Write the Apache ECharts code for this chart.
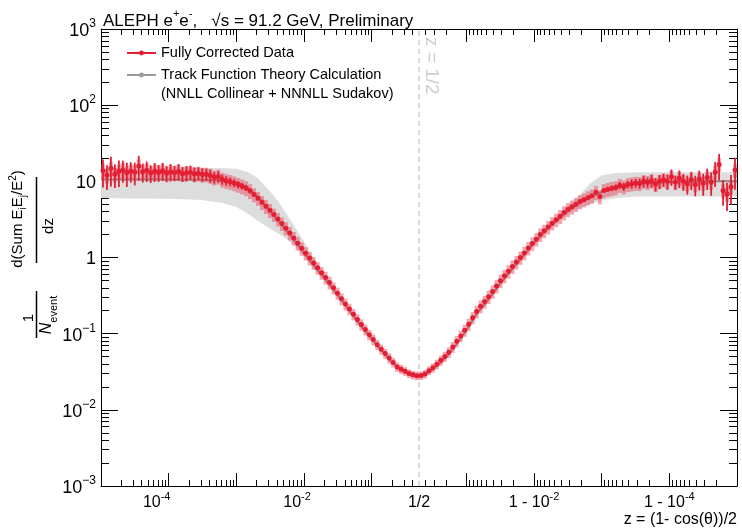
<!DOCTYPE html>
<html><head><meta charset="utf-8">
<script src="https://cdn.jsdelivr.net/npm/echarts@6/dist/echarts.min.js"></script>
<style>html,body{margin:0;padding:0;background:#fff}#c{width:742px;height:531px}</style>
</head><body><div id="c"></div>
<script>
// ---------------- DATA ----------------
// 80 log-spaced bins from z=1e-5 to z=1/2 (increasing z)
const dataLeft = [13.8,12.0,14.8,12.4,13.6,14.1,13.0,13.7,13.2,15.9,
13.4,14.0,12.9,13.6,13.1,13.8,12.8,13.4,13.0,13.5,
12.6,12.9,13.2,12.5,12.8,12.3,12.4,11.9,11.3,11.6,
10.6,10.2,9.9,9.5,9.06,8.65,8.2,7.5,6.7,6.0,
5.3,4.7,4.17,3.66,3.2,2.79,2.43,2.10,1.80,1.54,
1.32,1.14,0.984,0.85,0.733,0.632,0.546,0.47,0.40,0.34,
0.288,0.245,0.211,0.180,0.154,0.132,0.113,0.097,0.0836,0.0718,
0.0624,0.0547,0.0479,0.0419,0.0366,0.0342,0.0321,0.0301,0.0288,0.0281];
// 80 log-spaced bins in (1-z) from 1-z=1/2 to 1-z=1e-5 (increasing z)
const dataRight = [0.0283,0.0295,0.0327,0.0358,0.0398,0.0447,0.0501,0.0569,0.0668,0.0794,
0.0933,0.111,0.133,0.162,0.195,0.229,0.264,0.305,0.359,0.422,
0.495,0.575,0.66,0.759,0.871,1.0,1.15,1.33,1.53,1.74,
2.0,2.24,2.51,2.82,3.13,3.47,3.89,4.29,4.63,5.01,
5.43,5.75,6.10,6.46,7.2,6.3,7.6,7.9,8.1,8.3,
8.9,8.5,9.1,9.3,9.5,9.4,10.0,9.7,10.2,9.2,
10.0,10.5,10.0,11.5,9.8,11.0,10.0,9.3,10.5,9.1,
10.7,9.5,11.2,9.8,13.2,16.6,7.6,6.8,8.5,14.1];
// relative statistical uncertainties (error bars)
const statLeft = [0.40,0.36,0.42,0.34,0.38,0.32,0.35,0.30,0.33,0.36,
0.28,0.30,0.26,0.28,0.25,0.27,0.24,0.26,0.23,0.25,
0.22,0.23,0.20,0.22,0.19,0.20,0.18,0.19,0.17,0.17,
0.15,0.14,0.13,0.12,0.11,0.10,0.09,0.08,0.07,0.06,
0.05,0.05,0.04,0.04,0.035,0.03,0.03,0.03,0.025,0.025,
0.02,0.02,0.02,0.02,0.02,0.02,0.02,0.02,0.02,0.02,
0.02,0.02,0.02,0.02,0.02,0.02,0.02,0.02,0.02,0.02,
0.02,0.02,0.02,0.02,0.02,0.02,0.02,0.02,0.02,0.02];
const statRight = [0.02,0.02,0.02,0.02,0.02,0.02,0.02,0.02,0.02,0.02,
0.02,0.02,0.02,0.02,0.02,0.02,0.02,0.02,0.02,0.02,
0.02,0.02,0.02,0.02,0.02,0.02,0.02,0.02,0.02,0.02,
0.02,0.02,0.02,0.02,0.02,0.02,0.02,0.02,0.025,0.025,
0.03,0.03,0.04,0.04,0.05,0.06,0.05,0.07,0.08,0.09,
0.10,0.12,0.11,0.14,0.13,0.15,0.17,0.15,0.19,0.20,
0.21,0.19,0.23,0.24,0.21,0.26,0.25,0.28,0.27,0.30,
0.29,0.32,0.31,0.34,0.36,0.38,0.37,0.40,0.42,0.45];
// relative systematic uncertainties (pink boxes)
const sysLeft = [0.22,0.22,0.22,0.22,0.22,0.22,0.22,0.22,0.22,0.22,
0.22,0.22,0.22,0.22,0.22,0.22,0.22,0.22,0.22,0.22,
0.22,0.22,0.22,0.22,0.22,0.22,0.22,0.22,0.22,0.22,
0.22,0.22,0.22,0.22,0.22,0.22,0.22,0.22,0.21,0.21,
0.21,0.21,0.21,0.20,0.20,0.20,0.20,0.20,0.20,0.20,
0.20,0.20,0.20,0.19,0.19,0.19,0.19,0.19,0.18,0.18,
0.18,0.18,0.17,0.17,0.17,0.17,0.16,0.16,0.16,0.15,
0.15,0.15,0.15,0.14,0.14,0.14,0.13,0.13,0.13,0.13];
const sysRight = [0.13,0.13,0.13,0.14,0.14,0.15,0.15,0.16,0.16,0.17,
0.17,0.18,0.18,0.18,0.19,0.19,0.19,0.20,0.20,0.20,
0.20,0.20,0.20,0.20,0.20,0.20,0.20,0.20,0.20,0.20,
0.20,0.20,0.20,0.20,0.20,0.21,0.21,0.21,0.21,0.21,
0.21,0.21,0.21,0.21,0.21,0.21,0.21,0.21,0.21,0.21,
0.21,0.21,0.21,0.21,0.21,0.21,0.21,0.21,0.21,0.21,
0.21,0.21,0.21,0.21,0.21,0.21,0.21,0.21,0.21,0.21,
0.21,0.21,0.21,0.21,0.21,0.21,0.21,0.21,0.21,0.21];
// theory (central value, band low, band high)
const theoryLeftZ   = [1e-5,3e-5,1e-4,3e-4,6e-4,1e-3,1.5e-3,2e-3,3e-3,4e-3,5e-3,7e-3,1e-2,1.5e-2,2e-2,3e-2,5e-2,7e-2,0.1,0.15,0.2,0.3,0.4,0.5];
const theoryLeftVal = [10.6,10.6,10.6,10.47,10.23,9.66,8.04,6.46,4.22,3.16,2.51,1.72,1.148,0.724,0.537,0.339,0.186,0.126,0.0861,0.0562,0.0422,0.0320,0.0288,0.0277];
const theoryLeftLo  = [6.03,5.96,5.89,5.69,5.25,4.62,3.72,3.09,2.45,2.09,1.86,1.48,1.023,0.661,0.490,0.316,0.174,0.117,0.0813,0.0537,0.0403,0.0305,0.0275,0.0266];
const theoryLeftHi  = [14.45,14.62,14.79,14.96,14.96,14.62,13.18,11.22,7.76,5.71,4.27,2.69,1.62,0.891,0.603,0.363,0.200,0.133,0.0902,0.0582,0.0437,0.0331,0.0299,0.0288];
const theoryRightOneMinusZ = [0.4,0.3,0.2,0.15,0.1,0.07,0.05,0.03,0.02,0.015,0.01,7e-3,5e-3,3e-3,2e-3,1.5e-3,1e-3,6e-4,3e-4,1e-4,3e-5,1e-5];
const theoryRightVal = [0.0292,0.0351,0.0490,0.0668,0.111,0.182,0.263,0.479,0.741,1.0,1.53,2.14,2.85,4.17,5.31,6.10,7.24,8.32,9.23,9.77,10.0,10.0];
const theoryRightLo  = [0.0279,0.0335,0.0468,0.0638,0.106,0.174,0.251,0.457,0.708,0.955,1.46,2.04,2.72,3.80,4.57,5.01,5.62,6.03,6.31,6.31,6.31,6.31];
const theoryRightHi  = [0.0305,0.0367,0.0513,0.070,0.116,0.191,0.275,0.501,0.776,1.047,1.60,2.24,3.02,5.01,6.92,9.33,12.0,12.9,13.2,13.2,13.2,13.2];
// tick definitions
const xMajorLeftZ = [1e-5,1e-4,1e-3,1e-2,1e-1];
const xMajorRightOneMinusZ = [1e-1,1e-2,1e-3,1e-4,1e-5];
const minorMantissas = [2,3,4,5,6,7,8,9];
const xMinorDecades = [1e-5,1e-4,1e-3,1e-2];
const xMinorTenths = [0.2,0.3,0.4];
const xLabelTicks = [
  {side:'L', v:1e-4, base:'10', sup:'-4', pad:24},
  {side:'L', v:1e-2, base:'10', sup:'-2', pad:14},
  {side:'L', v:0.5,  base:'1/2', sup:'', pad:0},
  {side:'R', v:1e-2, base:'1 - 10', sup:'-2', pad:0},
  {side:'R', v:1e-4, base:'1 - 10', sup:'-4', pad:0}
];
const yDecades = [1e-3,1e-2,1e-1,1,10,100,1000];
const yTickLabels = [['10','\u22123'],['10','\u22122'],['10','\u22121'],['1',''],['10',''],['10','2'],['10','3']];

// ---------------- AXIS TRANSFORM ----------------
const LOG_HALF = Math.log10(0.5);
const uOfZ = z => Math.log10(z);
const uOfOneMinusZ = w => 2 * LOG_HALF - Math.log10(w);
const U_MIN = uOfZ(1e-5), U_MAX = uOfOneMinusZ(1e-5);
const FONT = '"Liberation Sans", Arial, Helvetica, sans-serif';
const RED = '#e41e32';

// bins
const nL = dataLeft.length, nR = dataRight.length;
const wL = (LOG_HALF - U_MIN) / nL, wR = (U_MAX - LOG_HALF) / nR;
const boxData = [], errData = [], dotData = [];
dataLeft.forEach((v, i) => {
  const a = U_MIN + i * wL, b = a + wL, c = (a + b) / 2;
  boxData.push([a, b, v, sysLeft[i]]); errData.push([c, v, statLeft[i]]); dotData.push([c, v]);
});
dataRight.forEach((v, j) => {
  const a = LOG_HALF + j * wR, b = a + wR, c = (a + b) / 2;
  boxData.push([a, b, v, sysRight[j]]); errData.push([c, v, statRight[j]]); dotData.push([c, v]);
});
const theoryPts = [];
theoryLeftZ.forEach((z, k) => theoryPts.push([uOfZ(z), theoryLeftVal[k], theoryLeftLo[k], theoryLeftHi[k]]));
theoryRightOneMinusZ.forEach((w, k) => theoryPts.push([uOfOneMinusZ(w), theoryRightVal[k], theoryRightLo[k], theoryRightHi[k]]));

// ticks
const xMajor = xMajorLeftZ.map(uOfZ).concat(xMajorRightOneMinusZ.map(uOfOneMinusZ));
const xMinor = [];
xMinorDecades.forEach(d => minorMantissas.forEach(m => { xMinor.push(uOfZ(m * d)); xMinor.push(uOfOneMinusZ(m * d)); }));
xMinorTenths.forEach(t => { xMinor.push(uOfZ(t)); xMinor.push(uOfOneMinusZ(t)); });
const xLabelU = xLabelTicks.map(t => t.side === 'L' ? uOfZ(t.v) : uOfOneMinusZ(t.v));
const yMajorLog = yDecades.map(v => Math.log10(v));
const yMinorLog = [];
yDecades.slice(0, -1).forEach(d => minorMantissas.forEach(m => yMinorLog.push(Math.log10(m * d))));

const richX = {
  b: {fontSize: 16, fontFamily: FONT, color: '#000', lineHeight: 20, verticalAlign: 'bottom'},
  s: {fontSize: 11, fontFamily: FONT, color: '#000', lineHeight: 11, verticalAlign: 'top'},
  g24: {width: 24, lineHeight: 20}, g14: {width: 14, lineHeight: 20}
};
const richY = {
  b: {fontSize: 18, fontFamily: FONT, color: '#000', lineHeight: 22, verticalAlign: 'bottom'},
  s: {fontSize: 12, fontFamily: FONT, color: '#000', lineHeight: 12, verticalAlign: 'top'}
};
function xLabelFmt(val) {
  const k = xLabelU.findIndex(u => Math.abs(u - val) < 1e-6);
  if (k < 0) return '';
  const t = xLabelTicks[k];
  let s = '{b|' + t.base + '}';
  if (t.sup) s += '{s|' + t.sup + '}';
  if (t.pad) s += '{g' + t.pad + '| }';
  return s;
}
function yLabelFmt(val) {
  const k = yMajorLog.findIndex(u => Math.abs(u - val) < 1e-6);
  if (k < 0) return '';
  const p = yTickLabels[k];
  return '{b|' + p[0] + '}' + (p[1] ? '{s|' + p[1] + '}' : '');
}

function xAx(pos, ticks, len, lineShow, opts) {
  return Object.assign({type: 'value', position: pos, min: U_MIN, max: U_MAX, gridIndex: 0,
    axisLine: {show: lineShow, onZero: false, lineStyle: {color: '#000', width: 1}}, splitLine: {show: false},
    axisTick: {show: true, inside: true, length: len, customValues: ticks, lineStyle: {color: '#000', width: 1}},
    axisLabel: {show: false}}, opts || {});
}
function yAx(pos, ticks, len, lineShow, opts) {
  return Object.assign({type: 'value', position: pos, min: -3, max: 3, gridIndex: 0,
    axisLine: {show: lineShow, onZero: false, lineStyle: {color: '#000', width: 1}}, splitLine: {show: false},
    axisTick: {show: true, inside: true, length: len, customValues: ticks, lineStyle: {color: '#000', width: 1}},
    axisLabel: {show: false}}, opts || {});
}

const chart = echarts.init(document.getElementById('c'), null, {renderer: 'canvas', width: 742, height: 531});
chart.setOption({
  animation: false,
  backgroundColor: '#fff',
  title: {
    text: '{a|ALEPH e}{s|+}{a|e}{s|-}{a|,   \u221As = 91.2 GeV, Preliminary}',
    left: 98, top: 3,
    textStyle: {fontWeight: 'normal', rich: {
      a: {fontSize: 17, fontWeight: 'normal', fontFamily: FONT, color: '#000', lineHeight: 22, verticalAlign: 'bottom'},
      s: {fontSize: 11, fontWeight: 'normal', fontFamily: FONT, color: '#000', lineHeight: 11, verticalAlign: 'top'}
    }}
  },
  grid: {left: 101, right: 5, top: 29, bottom: 45, containLabel: false},
  legend: {
    orient: 'vertical', left: 121, top: 40, itemWidth: 29, itemHeight: 6, itemGap: 6,
    textStyle: {fontSize: 14.5, fontFamily: FONT, color: '#000', lineHeight: 16},
    data: [
      {name: 'Fully Corrected Data', lineStyle: {color: RED, width: 2, opacity: 1}, itemStyle: {color: RED}},
      {name: 'Track Function Theory Calculation', lineStyle: {color: '#9a9a9a', width: 2, opacity: 1}, itemStyle: {color: '#9a9a9a'}}
    ]
  },
  xAxis: [
    xAx('bottom', xMajor, 13, true, {axisLabel: {show: true, customValues: xLabelU, formatter: xLabelFmt, rich: richX, margin: 5}}),
    xAx('bottom', xMinor, 6, false),
    xAx('top', xMajor, 13, true),
    xAx('top', xMinor, 6, false)
  ],
  yAxis: [
    {type: 'log', logBase: 10, min: 1e-3, max: 1e3, position: 'left', gridIndex: 0,
     axisLine: {show: true, onZero: false, lineStyle: {color: '#000', width: 1}},
     axisTick: {show: false}, axisLabel: {show: false}, splitLine: {show: false}, minorTick: {show: false}},
    yAx('left', yMajorLog, 17, false, {axisLabel: {show: true, customValues: yMajorLog, formatter: yLabelFmt, rich: richY, margin: 5}}),
    yAx('left', yMinorLog, 8, false),
    yAx('right', yMajorLog, 17, true),
    yAx('right', yMinorLog, 8, false)
  ],
  graphic: [
    {type: 'text', x: 18, y: 219, rotation: Math.PI / 2, z: 10,
     style: {text: '{n|d(Sum E}{u|i}{n|E}{u|j}{n|/E}{p|2}{n|)}', align: 'center', verticalAlign: 'middle',
       rich: {n: {fontSize: 15, fontFamily: FONT, color: '#000', lineHeight: 20, verticalAlign: 'middle'},
              u: {fontSize: 10, fontFamily: FONT, color: '#000', lineHeight: 10, verticalAlign: 'bottom'},
              p: {fontSize: 10, fontFamily: FONT, color: '#000', lineHeight: 10, verticalAlign: 'top'}}}},
    {type: 'text', x: 49, y: 226, rotation: Math.PI / 2, z: 10,
     style: {text: 'dz', font: '15px ' + FONT, fill: '#000', align: 'center', verticalAlign: 'middle'}},
    {type: 'line', z: 10, shape: {x1: 36.5, y1: 177, x2: 36.5, y2: 263}, style: {stroke: '#000', lineWidth: 1.5}},
    {type: 'line', z: 10, shape: {x1: 36.5, y1: 291, x2: 36.5, y2: 338}, style: {stroke: '#000', lineWidth: 1.5}},
    {type: 'text', x: 29, y: 318, rotation: Math.PI / 2, z: 10,
     style: {text: '1', font: '15px ' + FONT, fill: '#000', align: 'center', verticalAlign: 'middle'}},
    {type: 'text', x: 49, y: 315, rotation: Math.PI / 2, z: 10,
     style: {text: '{i|N}{e|event}', align: 'center', verticalAlign: 'middle',
       rich: {i: {fontSize: 16, fontStyle: 'italic', fontFamily: FONT, color: '#000', lineHeight: 20, verticalAlign: 'top'},
              e: {fontSize: 11, fontFamily: FONT, color: '#000', lineHeight: 11, verticalAlign: 'bottom'}}}},
    {type: 'text', left: 161, top: 86, z: 10,
     style: {text: '(NNLL Collinear + NNNLL Sudakov)', font: '14.5px ' + FONT, fill: '#000'}},
    {type: 'text', right: 5, top: 512, z: 10,
     style: {text: 'z = (1- cos(\u03B8))/2', font: '16px ' + FONT, fill: '#000'}}
  ],
  series: [
    {type: 'custom', name: 'band', z: 1, clip: true, silent: true,
     data: [[LOG_HALF, 1]], encode: {x: 0, y: 1},
     renderItem: (params, api) => {
       const pts = [];
       theoryPts.forEach(p => pts.push(api.coord([p[0], p[3]])));
       for (let k = theoryPts.length - 1; k >= 0; k--) pts.push(api.coord([theoryPts[k][0], theoryPts[k][2]]));
       return {type: 'polygon', shape: {points: pts}, style: {fill: '#dddddd', stroke: null}};
     }},
    {type: 'line', name: 'Track Function Theory Calculation', z: 2,
     data: theoryPts.map(p => [p[0], p[1]]), smooth: 0.3, symbol: 'circle', symbolSize: 4, showSymbol: false,
     lineStyle: {color: '#7a7a7a', width: 2, opacity: 0.9}, itemStyle: {color: '#9a9a9a'},
     markLine: {silent: true, symbol: ['none', 'none'], label: {show: false},
       lineStyle: {color: '#cfcfcf', type: [5, 4], width: 1.5},
       data: [{xAxis: LOG_HALF}]}},
    {type: 'custom', name: 'sys', z: 3, clip: true, silent: true,
     data: boxData, encode: {x: [0, 1], y: 2},
     renderItem: (params, api) => {
       const a = api.value(0), b = api.value(1), v = api.value(2), f = api.value(3);
       const p0 = api.coord([a, v * (1 + f)]), p1 = api.coord([b, v * (1 - f)]);
       return {type: 'rect', shape: {x: p0[0], y: p0[1], width: p1[0] - p0[0], height: p1[1] - p0[1]},
               style: {fill: 'rgba(235,75,95,0.5)', stroke: null}};
     }},
    {type: 'custom', name: 'stat', z: 4, clip: true, silent: true,
     data: errData, encode: {x: 0, y: 1},
     renderItem: (params, api) => {
       const u = api.value(0), v = api.value(1), f = api.value(2);
       const p0 = api.coord([u, v * (1 - f)]), p1 = api.coord([u, v * (1 + f)]);
       return {type: 'line', shape: {x1: p0[0], y1: p0[1], x2: p1[0], y2: p1[1]}, style: {stroke: RED, lineWidth: 1.8}};
     }},
    {type: 'line', name: 'Fully Corrected Data', z: 5, data: dotData,
     symbol: 'circle', symbolSize: 5, showSymbol: true, showAllSymbol: true,
     lineStyle: {width: 0, opacity: 0}, itemStyle: {color: RED}},
    {type: 'custom', name: 'halfLabel', z: 6, silent: true,
     data: [[LOG_HALF, 1000]], encode: {x: 0, y: 1},
     renderItem: (params, api) => {
       const p = api.coord([api.value(0), api.value(1)]);
       return {type: 'text', x: p[0] + 3, y: p[1] + 8, rotation: -Math.PI / 2,
               style: {text: 'z = 1/2', font: '19px ' + FONT, fill: '#cdcdcd', align: 'left', verticalAlign: 'bottom'}};
     }}
  ]
});
</script></body></html>
